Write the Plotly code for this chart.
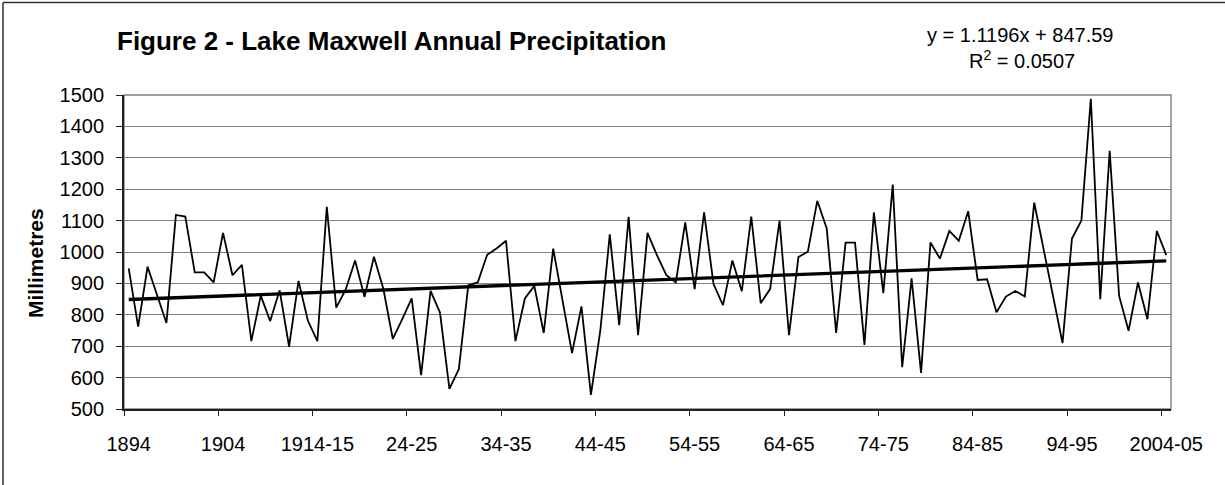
import plotly.graph_objects as go

# Annual precipitation (mm), one value per year/season from 1894 to 2004-05
precip_mm = [
    948, 762, 953, 862, 774, 1118, 1113, 935, 935, 903,
    1061, 926, 959, 716, 861, 780, 878, 699, 908, 781,
    716, 1144, 823, 880, 973, 857, 985, 882, 723, 786,
    852, 608, 876, 807, 564, 627, 894, 903, 991, 1011,
    1036, 716, 852, 892, 742, 1011, 850, 678, 827, 545,
    750, 1056, 767, 1112, 735, 1061, 990, 926, 903, 1094,
    882, 1126, 898, 831, 973, 875, 1113, 837, 882, 1100,
    735, 984, 1001, 1163, 1075, 742, 1030, 1030, 704, 1126,
    869, 1215, 633, 916, 615, 1030, 979, 1067, 1036, 1130,
    911, 913, 808, 858, 876, 858, 1157, 1010, 860, 710,
    1043, 1100, 1488, 850, 1322, 860, 749, 903, 786, 1067,
    990,
]

# Category labels shown every tenth year
tick_labels = ["1894", "1904", "1914-15", "24-25", "34-35", "44-45",
               "54-55", "64-65", "74-75", "84-85", "94-95", "2004-05"]
label_step = 10

# Linear trend fitted over x = 1..n
trend_slope = 1.1196
trend_intercept = 847.59
r_squared = 0.0507

n = len(precip_mm)
idx = list(range(n))
trend = [trend_slope * (i + 1) + trend_intercept for i in idx]

W, H = 1225, 485
ml, mr, mt, mb = 124, 54, 95, 76
pw, ph = W - ml - mr, H - mt - mb


def px_x(x):
    """Pixel column -> paper x."""
    return (x - ml) / pw


def px_y(y):
    """Pixel row (from top) -> paper y."""
    return (H - mb - y) / ph


font_family = "Liberation Sans, Arial, sans-serif"

fig = go.Figure()
fig.add_trace(go.Scatter(
    x=idx, y=precip_mm, mode="lines",
    line=dict(color="black", width=1.8),
    hoverinfo="skip", showlegend=False,
))
fig.add_trace(go.Scatter(
    x=idx, y=trend, mode="lines",
    line=dict(color="black", width=3.4),
    hoverinfo="skip", showlegend=False,
))

fig.update_layout(
    width=W, height=H,
    margin=dict(l=ml, r=mr, t=mt, b=mb, pad=0),
    paper_bgcolor="white", plot_bgcolor="white",
    font=dict(family=font_family, color="black", size=20),
    xaxis=dict(
        range=[-0.5, n - 0.5],
        tickmode="array",
        tickvals=[k * label_step for k in range(len(tick_labels))],
        ticktext=tick_labels,
        ticks="", showgrid=False, zeroline=False,
        showline=True, linecolor="#202020", linewidth=1.8,
        ticklabelstandoff=16,
        tickfont=dict(size=20),
        minor=dict(tickmode="linear", tick0=-0.5, dtick=label_step,
                   ticks="outside", ticklen=5, tickcolor="#202020",
                   tickwidth=1.2, showgrid=False),
    ),
    yaxis=dict(
        range=[500, 1500], dtick=100, tick0=500,
        showgrid=True, gridcolor="#808080", gridwidth=1.2,
        zeroline=False,
        showline=True, linecolor="#202020", linewidth=1.8,
        ticks="outside", ticklen=6, tickcolor="#202020", tickwidth=1.2,
        tickfont=dict(size=20),
        ticklabelstandoff=8,
    ),
    shapes=[
        # plot-area frame
        dict(type="rect", xref="paper", yref="paper", x0=0, x1=1, y0=0, y1=1,
             line=dict(color="#808080", width=1.4), layer="below"),
        # chart-area border (top and left edges)
        dict(type="line", xref="paper", yref="paper",
             x0=px_x(3), x1=px_x(W + 5), y0=px_y(2.5), y1=px_y(2.5),
             line=dict(color="#303030", width=1.5)),
        dict(type="line", xref="paper", yref="paper",
             x0=px_x(3), x1=px_x(3), y0=px_y(2.5), y1=px_y(H + 5),
             line=dict(color="#303030", width=1.5)),
    ],
    annotations=[
        dict(
            text="<b>Figure 2 - Lake Maxwell Annual Precipitation</b>",
            xref="paper", yref="paper", x=px_x(392), y=px_y(41),
            xanchor="center", yanchor="middle", showarrow=False,
            font=dict(size=26, color="black"),
        ),
        dict(
            text="<b>Millimetres</b>", textangle=-90,
            xref="paper", yref="paper", x=px_x(35), y=px_y(263),
            xanchor="center", yanchor="middle", showarrow=False,
            font=dict(size=21, color="black"),
        ),
        dict(
            text=f"y = {trend_slope}x + {trend_intercept}",
            xref="paper", yref="paper", x=px_x(1020), y=px_y(35),
            xanchor="center", yanchor="middle", showarrow=False,
            font=dict(size=20, color="black"),
        ),
        dict(
            text=f"R<sup>2</sup> = {r_squared}",
            xref="paper", yref="paper", x=px_x(1022), y=px_y(59),
            xanchor="center", yanchor="middle", showarrow=False,
            font=dict(size=20, color="black"),
        ),
    ],
)

fig.write_html("out.html")
